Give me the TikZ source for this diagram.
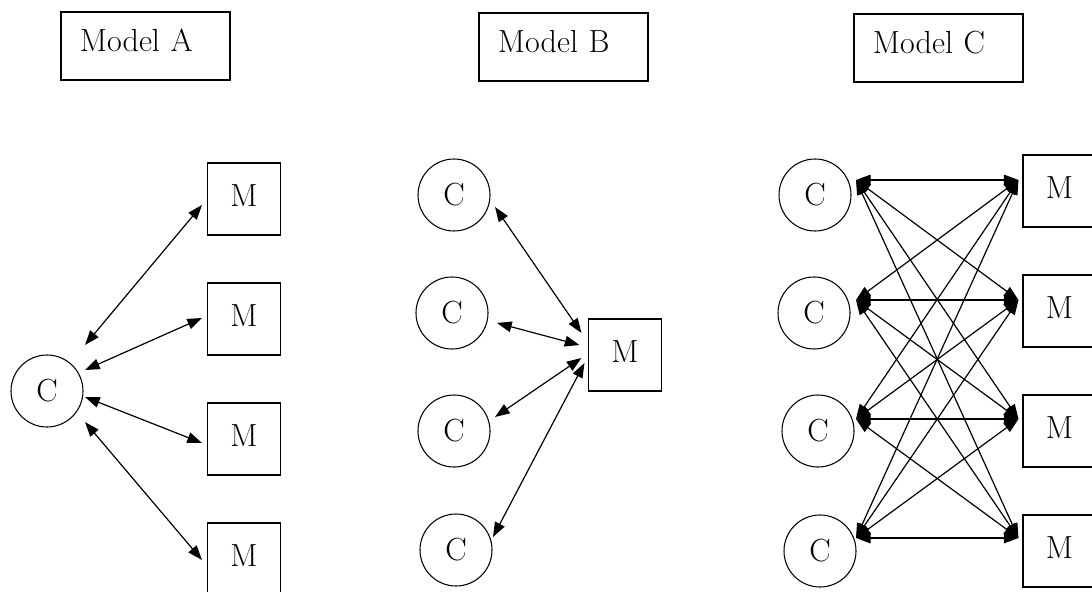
\documentclass[tikz,border=0pt]{standalone}
\usepackage{fontspec}
\usepackage{tikz}
\usetikzlibrary{arrows.meta}
\tikzset{
    model-box/.style = {draw, line width=1.4pt, rectangle, anchor=north west, text width=98pt, align=left, inner xsep=14.25pt, inner ysep=13.5pt, text height=16.5pt, text depth=7.5pt},
    c-node/.style = {draw, line width=0.8pt, circle, minimum size=54pt, inner sep=0pt},
    m-node/.style = {draw, line width=0.8pt, rectangle, minimum width=54.75pt, minimum height=54pt, inner sep=0pt, text height=16.5pt, text depth=5pt},
    link/.style = {{Triangle[length=11pt,width=8pt]}-{Triangle[length=11pt,width=8pt]}, line width=0.9pt},
}

\begin{document}
\begin{tikzpicture}[x=0.75pt, y=-0.75pt, font=\fontsize{24}{28}\selectfont]
\useasboundingbox (0,0) rectangle (1092,592);
\clip (0,0) rectangle (1092,592);

\node[model-box] (model-a) at (60,11) {Model A};
\node[model-box] (model-b) at (478,12) {Model B};
\node[model-box] (model-c) at (853,13) {Model C};

% one C, four M
\node[c-node] (a-c) at (47,391) {C};
\foreach \j/\y in {1/199, 2/319, 3/439, 4/559}
    \node[m-node] (a-m\j) at (244,\y) {M};
\foreach \j/\cy/\my in {1/-46/6, 2/-21/-1, 3/6/4, 4/31/1}
    \draw[link] ([shift={(38,\cy)}]a-c.center) -- ([shift={(-5,\my)}]a-m\j.west);

% four C, one M
\foreach \i/\x/\y in {1/454/195, 2/452/313, 3/454/431, 4/456/550}
    \node[c-node] (b-c\i) at (\x,\y) {C};
\node[m-node] (b-m) at (625,355) {M};
\foreach \i/\cx/\cy/\mx/\my in {1/41/12/-6.5/-22, 2/45/10/-8.5/-10, 3/41/-14/-6.5/3, 4/37/-13/-3.5/8}
    \draw[link] ([shift={(\cx,\cy)}]b-c\i.center) -- ([shift={(\mx,\my)}]b-m.west);

% four C, four M
\foreach \i/\x/\y in {1/815/195, 2/814/313, 3/818/431, 4/820/551}
    \node[c-node] (c-c\i) at (\x,\y) {C};
\foreach \j/\y in {1/191, 2/311, 3/431, 4/551}
    \node[m-node] (c-m\j) at (1059.5,\y) {M};
\foreach \i/\cx/\cy in {1/41/-15, 2/42/-13, 3/38/-12, 4/36/-13}
    \foreach \j/\my in {1/-11, 2/-11, 3/-12, 4/-13}
        \draw[link] ([shift={(\cx,\cy)}]c-c\i.center) -- ([shift={(-4,\my)}]c-m\j.west);
\end{tikzpicture}
\end{document}
